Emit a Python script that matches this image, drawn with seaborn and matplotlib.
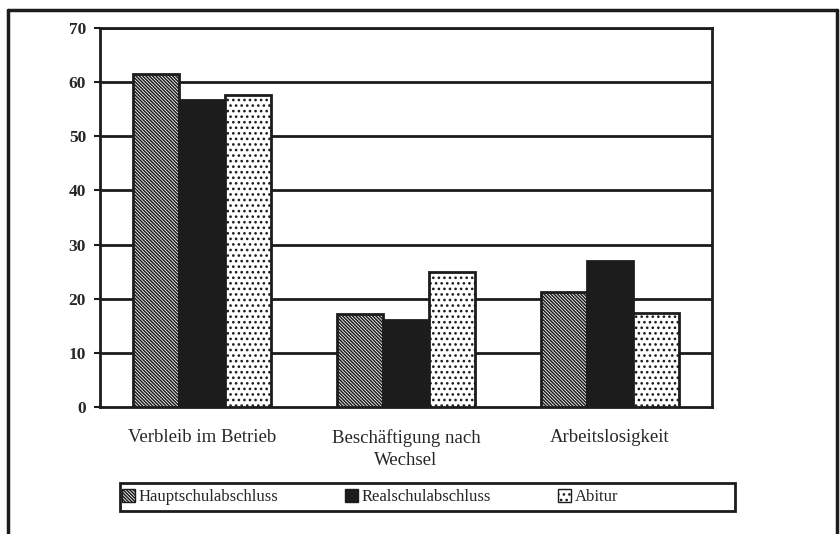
import matplotlib
matplotlib.use("Agg")
import matplotlib.pyplot as plt
import seaborn as sns
import pandas as pd
from matplotlib.patches import Patch, Rectangle
from matplotlib.lines import Line2D

categories = ["Verbleib im Betrieb", "Beschäftigung nach\nWechsel", "Arbeitslosigkeit"]
series = ["Hauptschulabschluss", "Realschulabschluss", "Abitur"]
haupt = [61.5, 17.1, 21.3]
real = [56.7, 16.1, 26.9]
abitur = [57.6, 25.0, 17.4]
yticks = [0, 10, 20, 30, 40, 50, 60, 70]

rows = []
for s, vals in zip(series, [haupt, real, abitur]):
    for c, v in zip(categories, vals):
        rows.append({"cat": c, "ser": s, "val": v})
df = pd.DataFrame(rows)

sns.set_theme(style="white")
plt.rcParams["font.family"] = ["Liberation Serif", "DejaVu Serif"]
plt.rcParams["hatch.linewidth"] = 1.1

fig = plt.figure(figsize=(8.4, 5.34), dpi=100)
ax = fig.add_axes([100/840, 1-407/534, 612/840, 379/534])

dark = "#1c1c1c"
facecolors = {"Hauptschulabschluss": "white", "Realschulabschluss": dark, "Abitur": "white"}
hatches = {"Hauptschulabschluss": "\\" * 10, "Realschulabschluss": "", "Abitur": "..."}

sns.barplot(data=df, x="cat", y="val", hue="ser", hue_order=series, order=categories,
            width=0.68, gap=0, ax=ax, legend=False, errorbar=None,
            palette=["white", dark, "white"], saturation=1)

n = len(categories)
for i, p in enumerate(ax.patches[:n*len(series)]):
    s = series[i // n]
    p.set_facecolor(facecolors[s])
    p.set_hatch(hatches[s])
    p.set_edgecolor(dark)
    p.set_linewidth(2)
    p.set_zorder(3)

ax.set_ylim(0, 70)
ax.set_xlim(-0.5, 2.5)
ax.set_yticks(yticks)
ax.set_yticklabels([str(t) for t in yticks], fontsize=12.5, fontweight="bold")
ax.tick_params(axis="y", length=4, width=1.5, color=dark, left=True, pad=6)
ax.tick_params(axis="x", length=0, pad=16)
for lab in ax.get_xticklabels():
    lab.set_fontsize(13.5)
    lab.set_linespacing(1.35)
ax.set_xlabel("")
ax.set_ylabel("")
for t in yticks[1:]:
    ax.axhline(t, color=dark, lw=2, zorder=1)
for sp in ax.spines.values():
    sp.set_visible(True)
    sp.set_color(dark)
    sp.set_linewidth(2)

# outer frame
fw = 2.5
fig.add_artist(Line2D([8/840, 8/840], [0, 1-10/534], transform=fig.transFigure, color=dark, lw=fw))
fig.add_artist(Line2D([8/840, 837/840], [1-10/534, 1-10/534], transform=fig.transFigure, color=dark, lw=fw))
fig.add_artist(Line2D([837/840, 837/840], [0, 1-10/534], transform=fig.transFigure, color=dark, lw=fw))

# legend box
fig.add_artist(Rectangle((120/840, 1-511/534), 615/840, 28/534, transform=fig.transFigure,
                         fill=False, edgecolor=dark, lw=2))
handles = [Patch(facecolor=facecolors[s], edgecolor=dark, hatch=hatches[s], lw=1) for s in series]
leg = fig.legend(handles, series, ncol=3, loc="center left",
                 bbox_to_anchor=(122/840, 1-497/534), frameon=False,
                 fontsize=12, handlelength=0.8, handleheight=0.8,
                 handletextpad=0.2, columnspacing=4.0, borderaxespad=0, borderpad=0)

fig.savefig("out.png", dpi=100)
